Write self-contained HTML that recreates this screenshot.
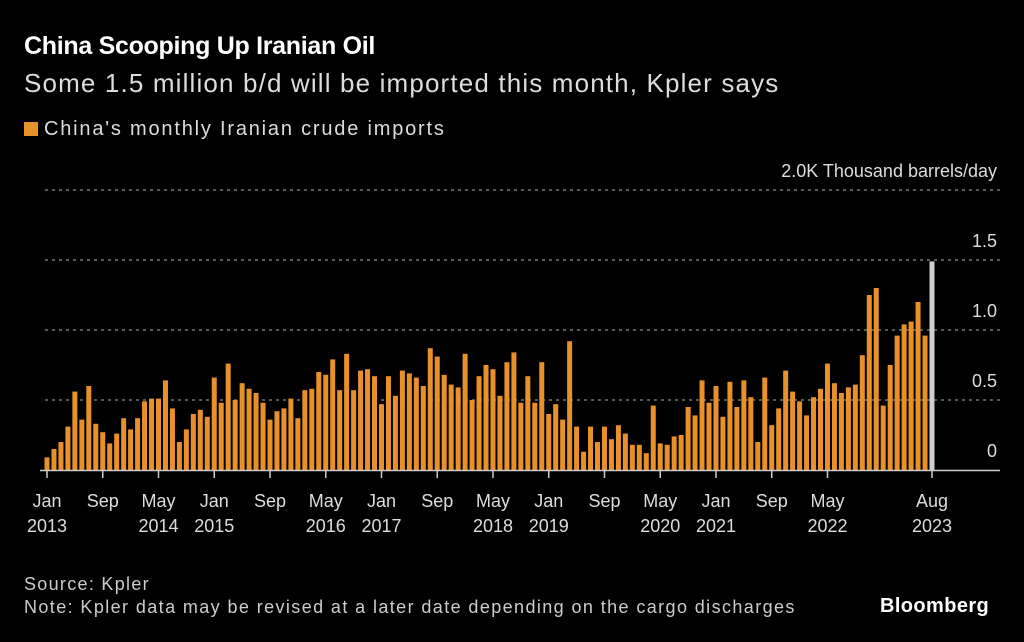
<!DOCTYPE html>
<html><head><meta charset="utf-8"><style>
body{margin:0;background:#000;width:1024px;height:642px;overflow:hidden;font-family:"Liberation Sans",sans-serif;color:#fff}
.t{position:absolute;white-space:nowrap}
</style></head><body>
<div class="t" style="left:24px;top:32px;font-size:25px;font-weight:bold;letter-spacing:-0.3px">China Scooping Up Iranian Oil</div>
<div class="t" style="left:24px;top:68px;font-size:26px;color:#ddd;letter-spacing:1.15px">Some 1.5 million b/d will be imported this month, Kpler says</div>
<div class="t" style="left:24px;top:118px;font-size:20px;color:#ddd;letter-spacing:1.8px"><span style="display:inline-block;width:14px;height:14px;background:#e8912a;margin-right:6px;vertical-align:-1px"></span>China's monthly Iranian crude imports</div>
<svg id="chart" width="1024" height="642" style="position:absolute;left:0;top:0"></svg>
<div class="t" style="left:24px;top:574px;font-size:18px;color:#ccc;letter-spacing:1.3px">Source: Kpler</div>
<div class="t" style="left:24px;top:597px;font-size:18px;color:#ccc;letter-spacing:1.4px">Note: Kpler data may be revised at a later date depending on the cargo discharges</div>
<div class="t" style="left:880px;top:595px;font-size:20px;font-weight:bold;letter-spacing:0.4px">Bloomberg</div>
<script>
const values=[0.09,0.15,0.2,0.31,0.56,0.36,0.60,0.33,0.27,0.19,0.26,0.37,
0.29,0.37,0.49,0.51,0.51,0.64,0.44,0.2,0.29,0.40,0.43,0.38,
0.66,0.48,0.76,0.50,0.62,0.58,0.55,0.48,0.36,0.42,0.44,0.51,
0.37,0.57,0.58,0.70,0.68,0.79,0.57,0.83,0.57,0.71,0.72,0.67,
0.47,0.67,0.53,0.71,0.69,0.66,0.60,0.87,0.81,0.68,0.61,0.59,
0.83,0.5,0.67,0.75,0.72,0.53,0.77,0.84,0.48,0.67,0.48,0.77,
0.40,0.47,0.36,0.92,0.31,0.13,0.31,0.2,0.31,0.22,0.32,0.26,
0.18,0.18,0.12,0.46,0.19,0.18,0.24,0.25,0.45,0.39,0.64,0.48,
0.60,0.38,0.63,0.45,0.64,0.52,0.20,0.66,0.32,0.44,0.71,0.56,
0.49,0.39,0.52,0.58,0.76,0.62,0.55,0.59,0.61,0.82,1.25,1.30,
0.46,0.75,0.96,1.04,1.06,1.2,0.96,1.49];
const yTicks=[0,0.5,1.0,1.5,2.0];
const yTickLabels=["0","0.5","1.0","1.5","2.0K Thousand barrels/day"];
const xTickIdx=[0,8,16,24,32,40,48,56,64,72,80,88,96,104,112,127];
const xTickLabels=[["Jan","2013"],["Sep",""],["May","2014"],["Jan","2015"],["Sep",""],["May","2016"],["Jan","2017"],["Sep",""],["May","2018"],["Jan","2019"],["Sep",""],["May","2020"],["Jan","2021"],["Sep",""],["May","2022"],["Aug","2023"]];
const svg=document.getElementById('chart');const NS='http://www.w3.org/2000/svg';
const x0=47,step=(932-47)/127,yb=470,ys=140;
const X=i=>x0+i*step, Y=v=>yb-v*ys;
function mk(t,a){const e=document.createElementNS(NS,t);for(const k in a)e.setAttribute(k,a[k]);svg.appendChild(e);return e;}
yTicks.forEach((v,i)=>{
 if(v>0){const g=mk('line',{x1:45,x2:1000,y1:Y(v),y2:Y(v),stroke:'#777','stroke-dasharray':'3,4','stroke-width':1.5});
 
 }
 const t=mk('text',{x:997,y:Y(v)-13,'text-anchor':'end',fill:'#ddd','font-size':18,'font-family':'Liberation Sans'});
 t.textContent=yTickLabels[i];
 
 
});
values.forEach((v,i)=>{
 const last=i===values.length-1;
 const r=mk('rect',{x:X(i)-2.5,y:Y(v),width:5,height:v*ys,fill:last?'#cfcfcf':'#e8912a'});
 
 
});
const ax=mk('line',{x1:40,x2:1000,y1:yb+0.5,y2:yb+0.5,stroke:'#ccc','stroke-width':1.5});


xTickIdx.forEach((idx,k)=>{
 const tk=mk('line',{x1:X(idx),x2:X(idx),y1:yb,y2:yb+8,stroke:'#ccc','stroke-width':1.5});
 
 
 xTickLabels[k].forEach((s,j)=>{if(!s)return;
  const t=mk('text',{x:X(idx),y:yb+37+j*25,'text-anchor':'middle',fill:'#ddd','font-size':18,'font-family':'Liberation Sans'});
  t.textContent=s;
  
  
 });
});
</script>
</body></html>
